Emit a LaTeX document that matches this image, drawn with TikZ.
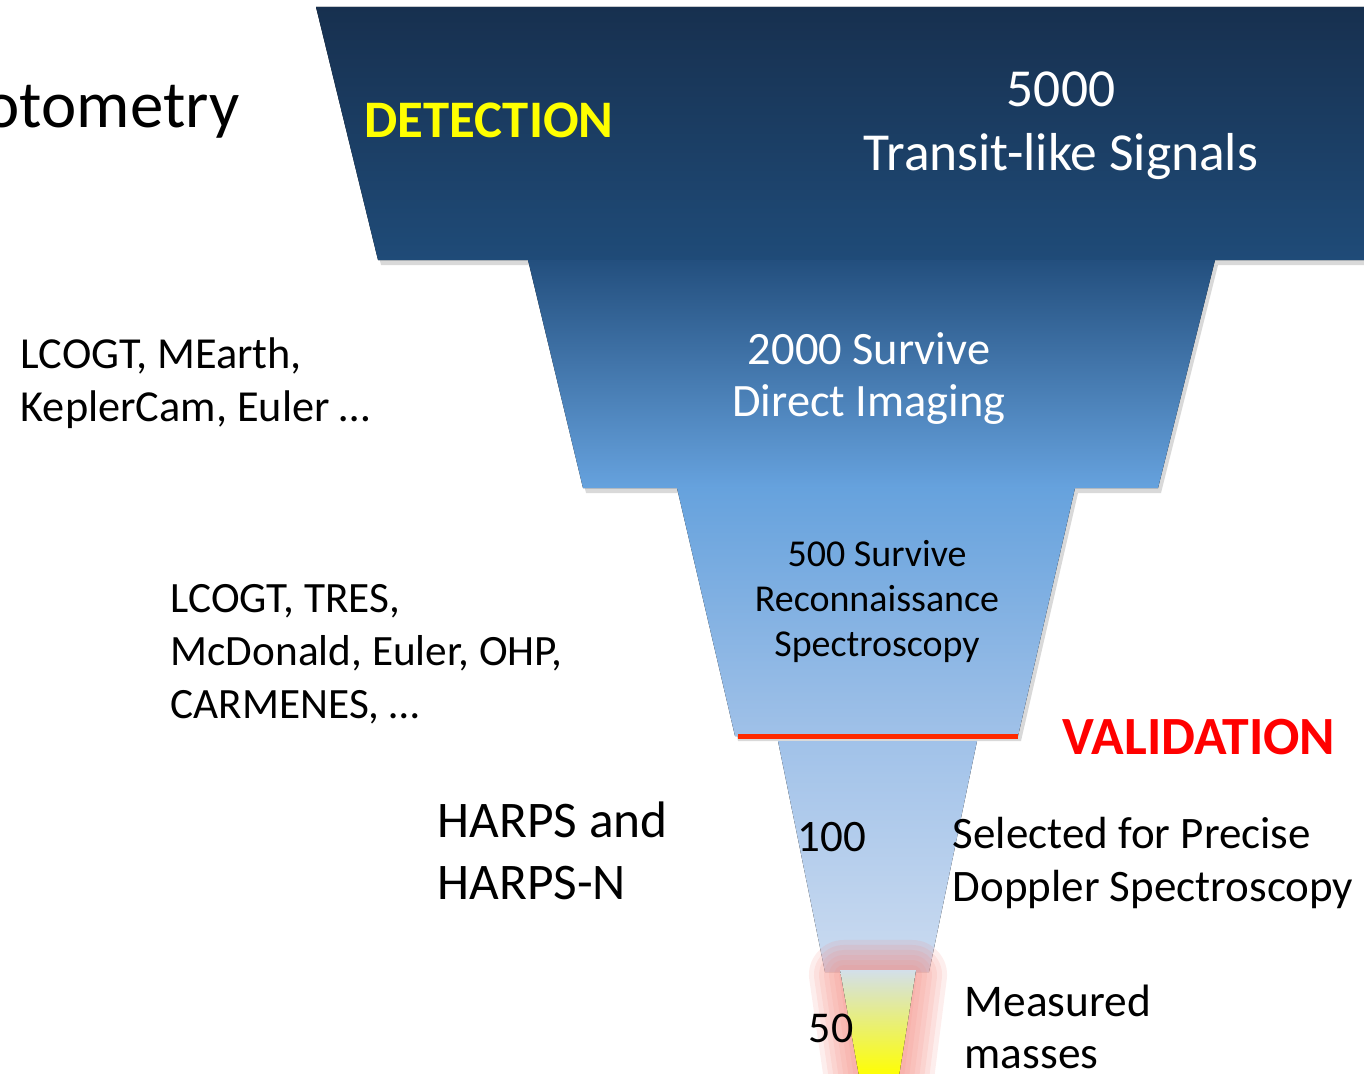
\documentclass[tikz,border=0pt]{standalone}
\usepackage{fontspec}
\setmainfont{Carlito}
\usetikzlibrary{shadows}
\definecolor{detyellow}{HTML}{FFFF00}
\definecolor{valred}{HTML}{FF0000}
\definecolor{cutred}{HTML}{FF2A00}
\definecolor{glowpink}{HTML}{F48A80}

\begin{document}
\begin{tikzpicture}[x=0.01cm,y=-0.01cm,
  seg/.style={shading=axis,drop shadow={shadow xshift=0.3mm,shadow yshift=-0.5mm,opacity=0.3}},
  txt/.style={inner sep=0pt,font=\fontsize{#1}{#1}\selectfont},
  stage/.style={inner sep=0pt,font=\fontsize{15}{18}\selectfont\bfseries}]
\useasboundingbox (0,0) rectangle (1364,1073);
\clip (0,0) rectangle (1364,1073);
\fill[seg,top color={rgb,255:red,23;green,48;blue,79},bottom color={rgb,255:red,31;green,75;blue,120}]
  (316,7) -- (1432,7) -- (1370,260) -- (378,260) -- cycle;
\fill[seg,top color={rgb,255:red,35;green,79;blue,126},bottom color={rgb,255:red,102;green,162;blue,222}]
  (528,260) -- (1215,260) -- (1158,488) -- (583,488) -- cycle;
\fill[seg,top color={rgb,255:red,102;green,162;blue,221},bottom color={rgb,255:red,160;green,193;blue,232}]
  (677,488) -- (1075,488) -- (1018,736) -- (735,736) -- cycle;
\fill[top color={rgb,255:red,161;green,194;blue,233},bottom color={rgb,255:red,203;green,219;blue,240}]
  (778,741) -- (977,741) -- (929,972) -- (825,972) -- cycle;
\foreach \w in {70,60,50,40,30,20,10}
  \draw[glowpink,line width=\w*0.1mm,line join=round,opacity=0.14]
    (844,975) -- (912,975) -- (898,1085) -- (860,1085) -- cycle;
\fill[top color={rgb,255:red,211;green,223;blue,234},bottom color=detyellow]
  (840,970) -- (916,970) -- (899,1076) -- (859,1076) -- cycle;
\coordinate (vl) at (738,736);
\coordinate (vr) at (1018,736);
\draw[cutred,line width=0.5mm] (vl) -- (vr);
\node[txt=19,anchor=base east] (photo) at (240,128) {Photometry};
\node[stage,text=detyellow,anchor=base west] (detect) at (364,138) {DETECTION};
\node[stage,font=\fontsize{15.3}{18}\selectfont\bfseries,text=valred,anchor=base west] (valid) at (1062,754) {VALIDATION};
\node[inner sep=0pt,font=\fontsize{15.2}{18.2}\selectfont,text=white,align=center,anchor=north] (n5000) at (1061,71)
  {5000\\Transit-like Signals};
\node[inner sep=0pt,font=\fontsize{13.2}{14.8}\selectfont,text=white,align=center,anchor=north] (n2000) at (869,332)
  {2000 Survive\\Direct Imaging};
\node[inner sep=0pt,font=\fontsize{10.8}{12.8}\selectfont,align=center,anchor=north] (n500) at (877,540)
  {500 Survive\\Reconnaissance\\Spectroscopy};
\node[inner sep=0pt,font=\fontsize{12.6}{15.1}\selectfont,align=left,anchor=north west] (phot) at (20,337)
  {LCOGT, MEarth,\\KeplerCam, Euler …};
\node[inner sep=0pt,font=\fontsize{12.3}{15}\selectfont,align=left,anchor=north west] (recon) at (170,584)
  {LCOGT, TRES,\\McDonald, Euler, OHP,\\CARMENES, …};
\node[inner sep=0pt,font=\fontsize{14.6}{17.6}\selectfont,align=left,anchor=north west] (harps) at (437,801)
  {HARPS and\\HARPS-N};
\node[txt=12.8,anchor=base west] (n100) at (797,851) {100};
\node[txt=12.5,anchor=base west] (n50) at (808,1042) {50};
\node[inner sep=0pt,font=\fontsize{12.8}{14.8}\selectfont,align=left,anchor=north west] (prec) at (952,817)
  {Selected for Precise\\Doppler Spectroscopy};
\node[inner sep=0pt,font=\fontsize{12.9}{14.8}\selectfont,align=left,anchor=north west] (mass) at (964,984)
  {Measured\\masses};
\end{tikzpicture}
\end{document}
